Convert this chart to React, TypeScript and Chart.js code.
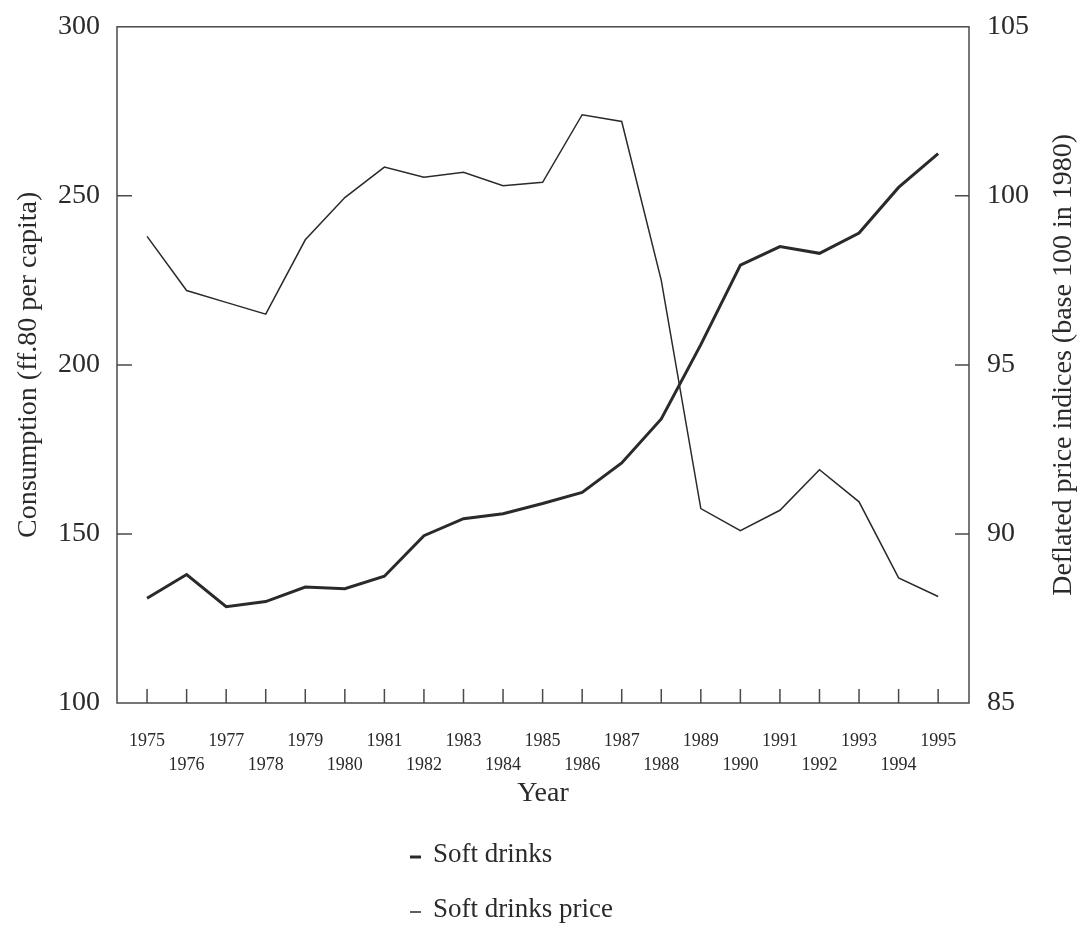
import React, { useEffect, useRef } from "react";
import { Chart, registerables } from "chart.js";

Chart.register(...registerables);

// ---- data ----
const years = [1975, 1976, 1977, 1978, 1979, 1980, 1981, 1982, 1983, 1984, 1985, 1986, 1987, 1988, 1989, 1990, 1991, 1992, 1993, 1994, 1995];
const consumption = [131, 138, 128.5, 130, 134.3, 133.8, 137.5, 149.5, 154.5, 156, 159, 162.3, 171, 184, 206, 229.5, 235, 233, 239, 252.5, 262.5];
const price = [98.8, 97.2, 96.85, 96.5, 98.7, 99.95, 100.85, 100.55, 100.7, 100.3, 100.4, 102.4, 102.2, 97.5, 90.75, 90.1, 90.7, 91.9, 90.95, 88.7, 88.15];
const leftTicks = [100, 150, 200, 250, 300];
const rightTicks = [85, 90, 95, 100, 105];
const seriesNames = ["Soft drinks", "Soft drinks price"];
const xTitle = "Year";
const leftTitle = "Consumption (ff.80 per capita)";
const rightTitle = "Deflated price indices (base 100 in 1980)";

const FONT = '"Liberation Serif", "DejaVu Serif", "Times New Roman", serif';
const INK = "#2a2a2a";
const AXIS = "#4a4a4a";

const framePlugin = {
  id: "framePlugin",
  afterDraw(chart: any) {
    const { ctx, chartArea: a, scales } = chart;
    ctx.save();
    // box
    ctx.strokeStyle = AXIS;
    ctx.lineWidth = 1.5;
    ctx.strokeRect(a.left, a.top, a.right - a.left, a.bottom - a.top);
    // inward ticks
    ctx.beginPath();
    years.forEach((yr) => {
      const px = scales.x.getPixelForValue(yr);
      ctx.moveTo(px, a.bottom);
      ctx.lineTo(px, a.bottom - 14);
    });
    leftTicks.slice(1, -1).forEach((v) => {
      const py = scales.y.getPixelForValue(v);
      ctx.moveTo(a.left, py);
      ctx.lineTo(a.left + 15, py);
    });
    rightTicks.slice(1, -1).forEach((v) => {
      const py = scales.y1.getPixelForValue(v);
      ctx.moveTo(a.right, py);
      ctx.lineTo(a.right - 14, py);
    });
    ctx.stroke();

    // right axis title (reads bottom to top)
    ctx.fillStyle = INK;
    ctx.font = `28px ${FONT}`;
    ctx.textAlign = "center";
    ctx.textBaseline = "middle";
    ctx.save();
    ctx.translate(1064, (a.top + a.bottom) / 2);
    ctx.rotate(-Math.PI / 2);
    ctx.fillText(rightTitle, 0, 0);
    ctx.restore();

    // legend
    ctx.font = `27px ${FONT}`;
    ctx.textAlign = "left";
    seriesNames.forEach((name, i) => {
      const y = 855 + i * 55;
      const ds = chart.data.datasets[i];
      ctx.strokeStyle = ds.borderColor;
      ctx.lineWidth = ds.borderWidth;
      ctx.beginPath();
      ctx.moveTo(410, y + 2);
      ctx.lineTo(421, y + 2);
      ctx.stroke();
      ctx.fillText(name, 433, y);
    });
    ctx.restore();
  },
};

export default function App() {
  const ref = useRef<HTMLCanvasElement | null>(null);

  useEffect(() => {
    if (!ref.current) return;
    const chart = new Chart(ref.current, {
      type: "line",
      data: {
        datasets: [
          {
            label: seriesNames[0],
            data: years.map((yr, i) => ({ x: yr, y: consumption[i] })),
            borderColor: INK,
            borderWidth: 3,
            pointRadius: 0,
            tension: 0,
            yAxisID: "y",
          },
          {
            label: seriesNames[1],
            data: years.map((yr, i) => ({ x: yr, y: price[i] })),
            borderColor: INK,
            borderWidth: 1.5,
            pointRadius: 0,
            tension: 0,
            yAxisID: "y1",
          },
        ],
      },
      options: {
        animation: false,
        responsive: false,
        layout: { padding: { top: 19, bottom: 133, left: 0, right: 0 } },
        plugins: { legend: { display: false }, tooltip: { enabled: false } },
        scales: {
          x: {
            type: "linear",
            position: "bottom",
            min: 1974.24,
            max: 1995.78,
            afterBuildTicks: (s: any) => {
              s.ticks = years.map((v) => ({ value: v }));
            },
            afterFit: (s: any) => {
              s.height = 107;
            },
            grid: { display: false },
            border: { display: false },
            ticks: {
              autoSkip: false,
              maxRotation: 0,
              minRotation: 0,
              padding: 18,
              color: INK,
              font: { family: FONT, size: 18, lineHeight: 1.33 },
              callback: (v: any) => ((Number(v) - 1975) % 2 === 0 ? [String(v), ""] : ["", String(v)]),
            },
            title: {
              display: true,
              text: xTitle,
              color: INK,
              font: { family: FONT, size: 28 },
              padding: { top: 0, bottom: 0 },
            },
          },
          y: {
            type: "linear",
            position: "left",
            min: 100,
            max: 300,
            afterBuildTicks: (s: any) => {
              s.ticks = leftTicks.map((v) => ({ value: v }));
            },
            afterFit: (s: any) => {
              s.width = 117;
            },
            grid: { display: false },
            border: { display: false },
            ticks: { padding: 9, color: INK, font: { family: FONT, size: 28 } },
            title: {
              display: true,
              text: leftTitle,
              color: INK,
              font: { family: FONT, size: 28 },
              padding: { top: 12, bottom: 0 },
            },
          },
          y1: {
            type: "linear",
            position: "right",
            min: 85,
            max: 105,
            afterBuildTicks: (s: any) => {
              s.ticks = rightTicks.map((v) => ({ value: v }));
            },
            afterFit: (s: any) => {
              s.width = 113;
            },
            grid: { display: false },
            border: { display: false },
            ticks: { padding: 10, color: INK, font: { family: FONT, size: 28 } },
          },
        },
      },
      plugins: [framePlugin],
    });
    return () => chart.destroy();
  }, []);

  return (
    <div style={{ position: "fixed", left: 0, top: 0, width: 1082, height: 943, background: "#fff" }}>
      <canvas ref={ref} width={1082} height={943} style={{ display: "block" }} />
    </div>
  );
}
